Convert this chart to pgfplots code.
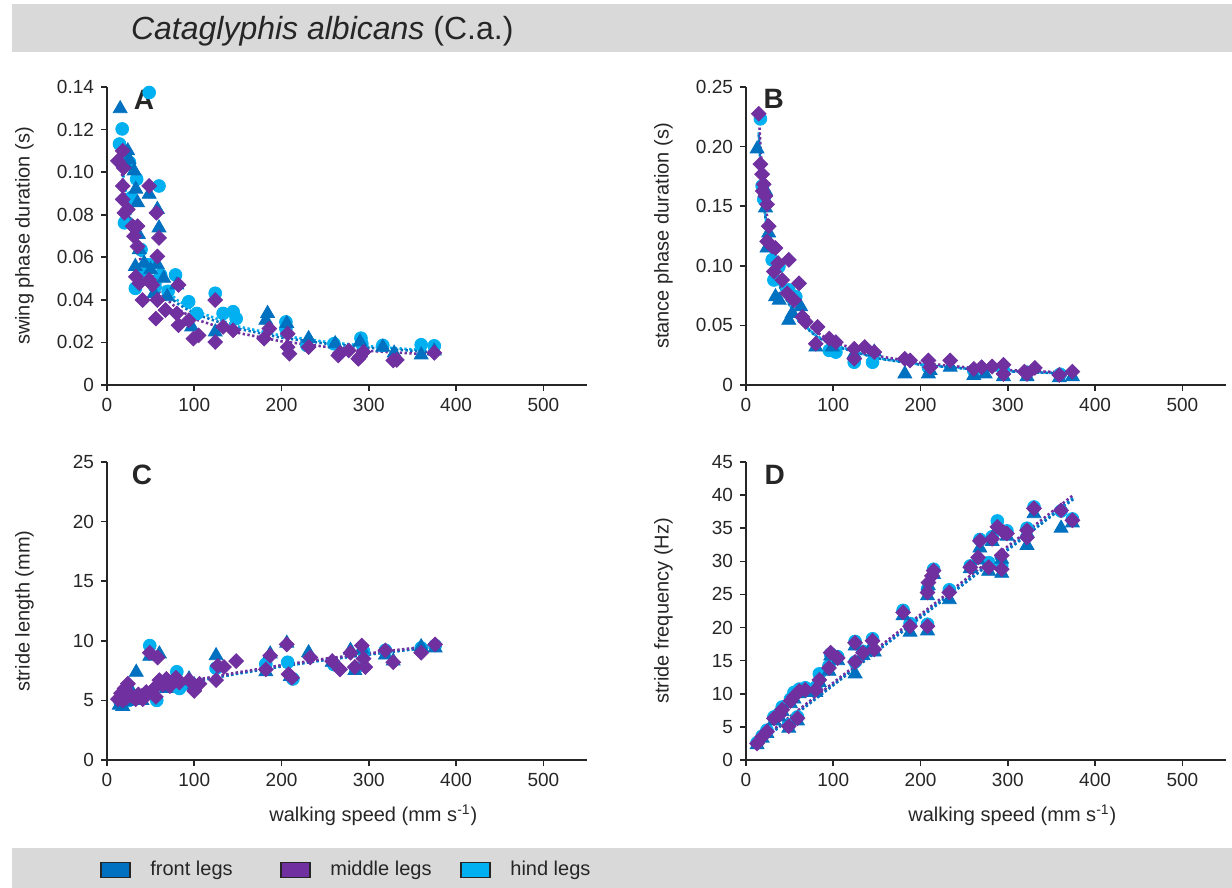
\documentclass[border=0pt]{standalone}
\usepackage{fontspec}
\setmainfont{Liberation Sans}
\usepackage{pgfplots}
\pgfplotsset{compat=1.18}

\definecolor{frontc}{HTML}{0070C0}
\definecolor{midc}{HTML}{7030A0}
\definecolor{hindc}{HTML}{00B0F0}
\definecolor{barc}{HTML}{D9D9D9}
\definecolor{ink}{HTML}{262626}

\tikzset{letter/.style={font=\bfseries\fontsize{14}{14}\selectfont, text=ink}}

\pgfplotsset{
  panel/.style={
    scale only axis, width=240pt, height=149pt,
    xmin=0, xmax=550, ymin=0,
    axis lines=left, axis line style={-, line width=0.8pt, ink},
    tick align=outside, major tick length=3pt,
    tick style={line width=0.8pt, ink},
    xtick={0,100,...,500},
    enlargelimits=false, clip=false,
    scaled ticks=false,
    /pgf/number format/assume math mode=true,
    tick label style={font=\fontsize{9.5}{11}\selectfont, text=ink},
    label style={font=\fontsize{10}{12}\selectfont, text=ink},
    ylabel style={at={(axis description cs:-0.172,0.5)}, anchor=center},
    xlabel style={at={(axis description cs:0.555,-0.185)}, anchor=center},
  },
  hind/.style={only marks, mark=*, mark size=3.2pt, color=hindc},
  front/.style={only marks, mark=triangle*, mark size=4pt, color=frontc},
  mid/.style={only marks, mark=square*, mark size=2.6pt, mark options={rotate=45}, color=midc},
  trend/.style={no marks, line width=1.3pt, dash pattern=on 1.2pt off 1.2pt},
}

\begin{document}
\begin{tikzpicture}
\useasboundingbox (0,0) rectangle (616pt,444pt);
\fill[barc] (6pt,418pt) rectangle (616pt,442pt);
\fill[barc] (6pt,0pt) rectangle (616pt,20pt);
\node[anchor=base west, font=\fontsize{16}{18}\selectfont, text=ink] at (62pt,424pt) {\textit{Cataglyphis albicans} (C.a.)};

% A: swing phase
\begin{axis}[panel, at={(53.5pt,251.5pt)}, anchor=south west,
  ymax=0.14, ytick={0,0.02,0.04,0.06,0.08,0.1,0.12,0.14},
  yticklabels={0,0.02,0.04,0.06,0.08,0.10,0.12,0.14},
  ylabel={swing phase duration (s)}]
\addplot[hind] coordinates {(14.3,0.1132) (17.4,0.1203) (20,0.1077) (25.7,0.1046) (34,0.0967) (20,0.0762) (28,0.088) (48.3,0.1374) (59.6,0.0935) (39,0.0636) (48,0.0565) (42,0.052) (55,0.046) (70,0.044) (32.5,0.0454) (61.5,0.0517) (78.5,0.0517) (93.6,0.0391) (103,0.0336) (124,0.0431) (133,0.0336) (144.5,0.0344) (148,0.0312) (205,0.0296) (205,0.0265) (229,0.0186) (260,0.0194) (291,0.022) (292,0.0194) (316,0.0186) (360,0.0189) (375,0.0184)};
\addplot[front] coordinates {(15.1,0.1298) (23.8,0.110) (25,0.106) (22,0.103) (31,0.1006) (33,0.092) (35,0.0856) (48.3,0.0896) (57.7,0.0825) (59.6,0.0738) (36,0.0707) (37,0.0636) (32.5,0.0557) (42.6,0.0572) (50,0.0541) (57.7,0.0565) (65,0.0501) (69,0.0415) (54,0.043) (48.3,0.049) (80,0.047) (97,0.0273) (124,0.0249) (184,0.0336) (182,0.0304) (206,0.0289) (231,0.0218) (261.5,0.0194) (290,0.0202) (316,0.0178) (329,0.0150) (360,0.0141) (375,0.016)};
\addplot[mid] coordinates {(12.5,0.1053) (18,0.110) (19,0.102) (18,0.0935) (18,0.0872) (20,0.0809) (23.8,0.0825) (29.4,0.0746) (35,0.0746) (31,0.0699) (35,0.0651) (48.3,0.0935) (56.6,0.0809) (59.6,0.0691) (57.7,0.0604) (33,0.0509) (37,0.0478) (40.8,0.0399) (48.3,0.0494) (52,0.047) (57.7,0.0399) (56,0.0312) (67,0.0352) (82,0.047) (80,0.0336) (82,0.0281) (93.6,0.0304) (99,0.0218) (105,0.0233) (124,0.0399) (124,0.0202) (133,0.0273) (144.5,0.0257) (180,0.0218) (186,0.0265) (207,0.0241) (207,0.0178) (209,0.0147) (231,0.0178) (265,0.0139) (267,0.015) (277,0.0162) (288,0.0123) (290,0.0133) (294,0.0155) (328,0.0115) (332,0.0118) (375,0.0151)};
\addplot[trend, hindc] coordinates {(15,0.112) (20,0.094) (30,0.073) (40,0.061) (60,0.048) (80,0.040) (100,0.035) (150,0.0275) (200,0.0232) (250,0.0203) (300,0.0182) (375,0.0160)};
\addplot[trend, frontc] coordinates {(15,0.110) (20,0.092) (30,0.071) (40,0.059) (60,0.046) (80,0.0385) (100,0.0335) (150,0.0265) (200,0.0222) (250,0.0195) (300,0.0175) (375,0.0154)};
\addplot[trend, midc] coordinates {(15,0.106) (20,0.090) (30,0.069) (40,0.057) (60,0.0435) (80,0.036) (100,0.031) (150,0.0245) (200,0.0205) (250,0.018) (300,0.016) (375,0.0142)};
\node[letter] at (rel axis cs:0.077,0.956) {A};
\end{axis}

% B: stance phase
\begin{axis}[panel, at={(373pt,251.5pt)}, anchor=south west,
  ymax=0.25, ytick={0,0.05,0.1,0.15,0.2,0.25},
  yticklabels={0,0.05,0.10,0.15,0.20,0.25},
  ylabel={stance phase duration (s)}]
\addplot[hind] coordinates {(16.5,0.2233) (18.5,0.167) (20.4,0.1557) (30,0.105) (32,0.0881) (37.7,0.0994) (49,0.0797) (57,0.074) (95.4,0.029) (103,0.0276) (124,0.0191) (145,0.0191) (209,0.0149) (261,0.0121) (295,0.0121) (322,0.0107) (360,0.0090)};
\addplot[front] coordinates {(12.7,0.198) (22.3,0.1486) (22.3,0.163) (26,0.1275) (24,0.1149) (33.8,0.074) (38,0.0712) (49,0.0543) (53,0.060) (62.7,0.0656) (80,0.0318) (99,0.0318) (124,0.026) (147,0.0276) (182,0.0093) (209,0.0093) (211,0.0121) (234,0.0149) (261,0.0079) (274,0.0093) (295,0.007) (322,0.007) (359,0.006) (374,0.007)};
\addplot[mid] coordinates {(14.6,0.2275) (16.5,0.1852) (18.5,0.1768) (20.4,0.1684) (19.2,0.1627) (22.3,0.1585) (24.2,0.1515) (26,0.1332) (24.2,0.1205) (30,0.1163) (33.8,0.1149) (36.9,0.1022) (31.9,0.0952) (49,0.105) (60.8,0.0853) (41.5,0.0881) (47.3,0.0769) (55,0.0712) (64.6,0.0572) (68.5,0.0529) (82,0.0487) (80,0.0346) (95.4,0.0389) (103,0.036) (124,0.0304) (124,0.022) (136,0.0318) (147,0.0276) (182,0.022) (188,0.0206) (209,0.0206) (211,0.0149) (234,0.0206) (261,0.0135) (270,0.0149) (282,0.0155) (295,0.0169) (295,0.0093) (319,0.0112) (322,0.0093) (331,0.0143) (359,0.0084) (374,0.0112)};
\addplot[trend, hindc] coordinates {(14.6,0.212) (17,0.181) (20,0.156) (25,0.126) (30,0.106) (40,0.0805) (60,0.0547) (80,0.0415) (100,0.0335) (150,0.0227) (200,0.0172) (250,0.014) (300,0.0117) (375,0.0095)};
\addplot[trend, frontc] coordinates {(14.6,0.210) (17,0.179) (20,0.154) (25,0.125) (30,0.105) (40,0.080) (60,0.054) (80,0.041) (100,0.033) (150,0.0224) (200,0.017) (250,0.0138) (300,0.0115) (375,0.0093)};
\addplot[trend, midc] coordinates {(14.6,0.228) (17,0.195) (20,0.168) (25,0.136) (30,0.114) (40,0.0866) (60,0.0588) (80,0.0446) (100,0.036) (150,0.0244) (200,0.0185) (250,0.015) (300,0.0126) (375,0.0102)};
\node[letter] at (rel axis cs:0.058,0.96) {B};
\end{axis}

% C: stride length
\begin{axis}[panel, at={(53.5pt,64pt)}, anchor=south west,
  ymax=25, ytick={0,5,10,15,20,25},
  ylabel={stride length (mm)},
  xlabel={walking speed (mm s\textsuperscript{-1})},
  legend style={at={(axis description cs:-0.0146,-0.369)}, anchor=west,
    draw=none, fill=none, inner sep=0pt, legend columns=3,
    font=\fontsize{10}{12}\selectfont, text=ink,
    nodes={inner sep=0pt},
    /tikz/every even column/.append style={column sep=0pt}},
  legend image code/.code={\path (0pt,0pt) (24.5pt,0pt);
    \draw[#1, draw=ink, line width=0.6pt] (0pt,-3.75pt) rectangle (14.5pt,3.75pt);}]
\addlegendimage{fill=frontc}
\addlegendimage{fill=midc}
\addlegendimage{fill=hindc}
\addplot[hind, forget plot] coordinates {(15,4.9) (20,5.3) (25,5.0) (35,5.3) (49,9.6) (57,5.0) (80,7.4) (83,6.0) (94,6.4) (125,7.7) (182,8.05) (207,8.2) (213,6.8) (260,8.0) (285,7.7) (294,9.1) (319,9.2) (360,9.4) (376,9.6)};
\addplot[front, forget plot] coordinates {(14,4.6) (18,4.5) (22,4.9) (26,5.2) (30,5.5) (33.5,7.36) (40,5.0) (49,8.7) (60,8.9) (68,6.0) (80,6.6) (94,6.8) (100,6.3) (125,8.75) (182,7.4) (187,8.9) (206,9.8) (210,7.0) (231,9.0) (258,8.2) (279,9.2) (284,7.5) (292,9.3) (319,8.8) (328,8.3) (360,9.5) (376,9.4)};
\addplot[mid, forget plot] coordinates {(12.5,5.1) (16,5.6) (18,5.0) (20,6.0) (22,5.2) (24,6.4) (28,5.4) (33,5.1) (36,5.5) (41,5.1) (45,5.7) (49,9.0) (54,6.0) (56,5.3) (58,8.6) (60,6.7) (64,6.3) (68,6.8) (72,6.2) (79,6.9) (83,6.5) (94,6.7) (100,5.8) (106,6.4) (125,6.7) (127,7.9) (134,7.8) (148,8.3) (182,7.6) (187,8.75) (206,9.7) (208,7.2) (212,6.9) (233,8.6) (258,8.3) (267,7.6) (279,9.0) (284,7.8) (292,9.6) (294,8.5) (296,7.8) (319,9.2) (328,8.2) (360,9.0) (376,9.7)};
\addplot[trend, hindc, forget plot] coordinates {(13,5.2) (20,5.4) (30,5.65) (50,5.95) (75,6.3) (100,6.6) (150,7.25) (200,7.85) (250,8.4) (300,8.85) (375,9.5)};
\addplot[trend, frontc, forget plot] coordinates {(13,5.2) (20,5.4) (30,5.65) (50,5.95) (75,6.3) (100,6.6) (150,7.25) (200,7.85) (250,8.4) (300,8.85) (375,9.5)};
\addplot[trend, midc, forget plot] coordinates {(13,5.3) (20,5.5) (30,5.75) (50,6.05) (75,6.4) (100,6.7) (150,7.35) (200,7.95) (250,8.5) (300,8.95) (375,9.6)};
\legend{\makebox[65pt][l]{front legs},\makebox[65pt][l]{middle legs},\makebox[65pt][l]{hind legs}}
\node[letter] at (rel axis cs:0.073,0.956) {C};
\end{axis}

% D: stride frequency
\begin{axis}[panel, at={(373pt,64pt)}, anchor=south west,
  ymax=45, ytick={0,5,...,45},
  ylabel={stride frequency (Hz)},
  xlabel={walking speed (mm s\textsuperscript{-1})}]
\addplot[hind] coordinates {(12.7,2.6) (18.5,3.6) (24,4.5) (32,6.5) (38,7.0) (41.5,8.0) (49,5.3) (51,9.2) (55,10.2) (59,6.5) (61,10.7) (68,10.9) (80,11.0) (84,13.0) (95,14.2) (97,16.0) (105,15.6) (125,14.8) (125,17.9) (134,16.4) (145,18.3) (180,22.6) (188,20.6) (208,20.5) (208,25.8) (215,28.8) (233,25.7) (257,29.3) (268,33.3) (278,29.8) (282,33.7) (288,36.1) (293,29.3) (299,34.6) (322,35.0) (330,38.2) (361,37.6) (374,36.4)};
\addplot[front] coordinates {(12.7,2.3) (18.5,3.3) (24,4.0) (32,5.9) (38,6.5) (41.5,7.3) (49,4.8) (51,8.5) (55,9.2) (59,5.9) (61,10.0) (68,10.2) (80,10.2) (84,11.7) (95,13.4) (97,15.7) (105,15.0) (125,13.0) (125,17.2) (134,15.8) (145,17.4) (147,16.3) (180,21.8) (188,19.3) (208,19.5) (208,24.8) (209,26.3) (215,28.0) (233,24.2) (257,28.9) (268,32.0) (266,30.2) (278,28.5) (282,33.0) (288,34.8) (293,28.2) (293,30.3) (299,33.8) (322,32.4) (322,34.3) (330,37.2) (361,35.0) (374,35.8)};
\addplot[mid] coordinates {(12.7,2.5) (18.5,3.5) (24,4.3) (32,6.3) (38,6.8) (41.5,7.6) (49,5.1) (51,8.9) (55,9.6) (59,6.3) (61,10.4) (68,10.6) (80,10.6) (84,12.1) (95,13.9) (97,16.2) (105,15.4) (125,17.7) (125,14.8) (134,16.2) (145,18.0) (147,16.7) (180,22.3) (188,20.2) (208,20.2) (208,25.3) (209,26.8) (213,27.8) (215,28.6) (233,25.3) (257,29.1) (268,33.1) (266,30.6) (278,29.1) (282,33.4) (288,35.2) (295,34.4) (293,28.8) (293,30.9) (299,34.2) (322,33.6) (322,34.7) (330,38.0) (361,37.7) (374,36.2)};
\addplot[trend, hindc] coordinates {(12,2.4) (375,39.6)};
\addplot[trend, frontc] coordinates {(12,2.3) (375,39.4)};
\addplot[trend, midc] coordinates {(12,2.6) (375,40.0)};
\node[letter] at (rel axis cs:0.060,0.956) {D};
\end{axis}
\end{tikzpicture}
\end{document}
